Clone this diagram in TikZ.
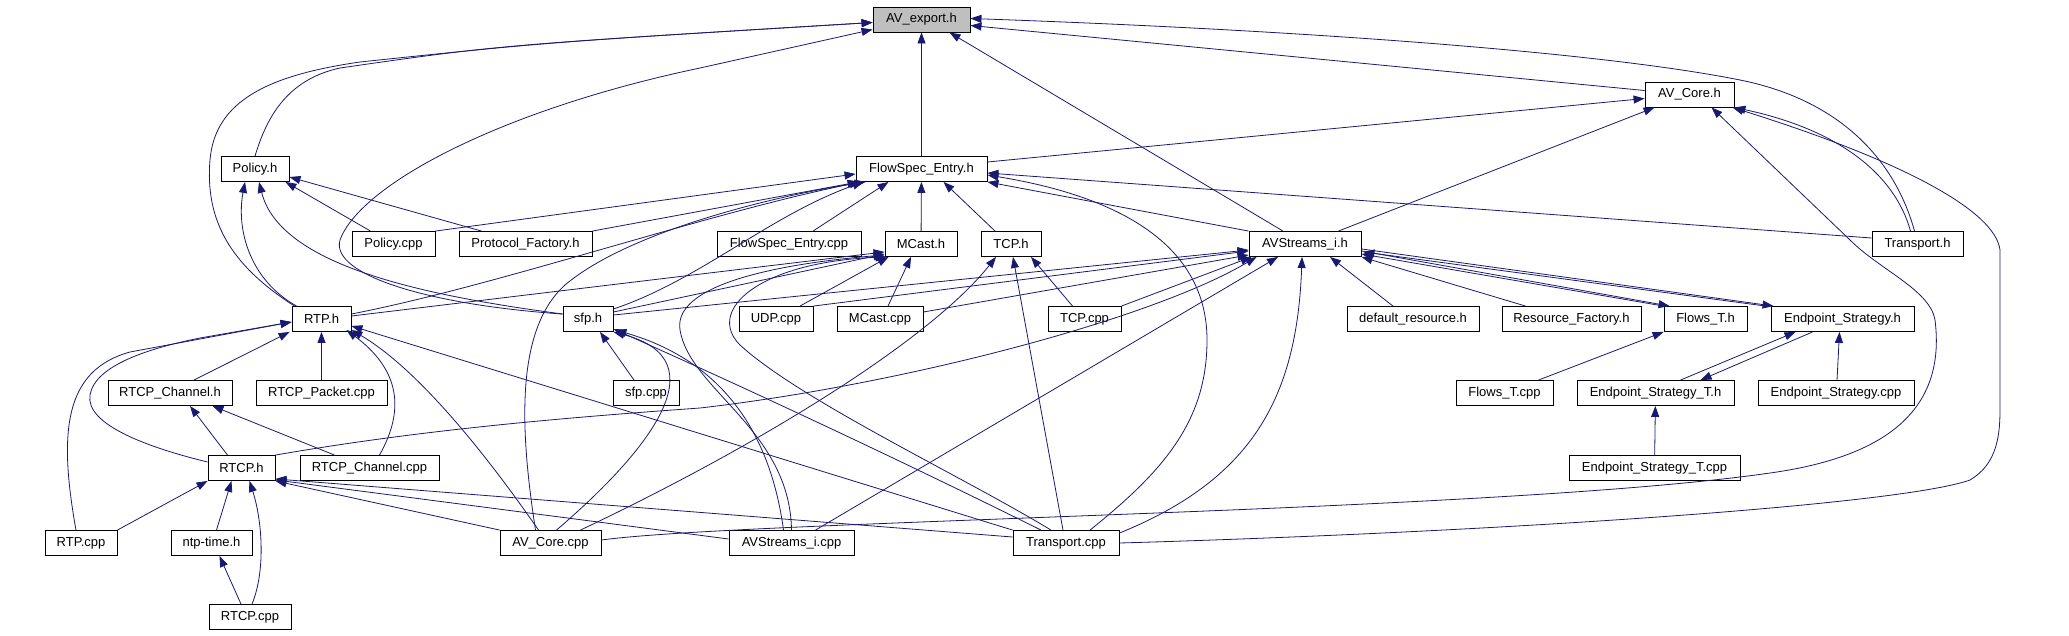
\documentclass[tikz,border=0pt]{standalone}
\usepackage{fontspec}
\setmainfont{Liberation Sans}
\usetikzlibrary{arrows.meta}
\definecolor{depblue}{HTML}{191970}
\tikzset{
  file/.style={draw=black, fill=white, line width=0.9pt, minimum height=25pt, inner sep=0pt,
    font=\fontsize{13}{15}\selectfont},
  dep/.style={draw=depblue, line width=0.8pt, -{Triangle[length=11pt,width=8pt]}}
}
\begin{document}
\begin{tikzpicture}[x=1pt,y=-1pt]
  \useasboundingbox (0,0) rectangle (2069,635);

  \node[file, minimum width=97pt, fill=black!25] (avexport) at (921.5,19.5) {AV\_export.h};
  \node[file, minimum width=89pt] (avcoreh) at (1689.5,94.5) {AV\_Core.h};
  \node[file, minimum width=68pt] (policyh) at (255,169) {Policy.h};
  \node[file, minimum width=131pt] (flowspech) at (921.5,169) {FlowSpec\_Entry.h};
  \node[file, minimum width=83pt] (policycpp) at (393.5,244) {Policy.cpp};
  \node[file, minimum width=133pt] (protocolh) at (525.5,244) {Protocol\_Factory.h};
  \node[file, minimum width=144pt] (flowspeccpp) at (789,244) {FlowSpec\_Entry.cpp};
  \node[file, minimum width=72pt] (mcasth) at (921,244) {MCast.h};
  \node[file, minimum width=60pt] (tcph) at (1011,244) {TCP.h};
  \node[file, minimum width=112pt] (avstreamsh) at (1305,244) {AVStreams\_i.h};
  \node[file, minimum width=91pt] (transporth) at (1917.5,244) {Transport.h};
  \node[file, minimum width=59pt] (rtph) at (321.5,319) {RTP.h};
  \node[file, minimum width=50pt] (sfph) at (588,319) {sfp.h};
  \node[file, minimum width=74pt] (udpcpp) at (776,319) {UDP.cpp};
  \node[file, minimum width=86pt] (mcastcpp) at (880,319) {MCast.cpp};
  \node[file, minimum width=73pt] (tcpcpp) at (1084.5,319) {TCP.cpp};
  \node[file, minimum width=132pt] (defaultresh) at (1413,319) {default\_resource.h};
  \node[file, minimum width=139pt] (resourceh) at (1571.5,319) {Resource\_Factory.h};
  \node[file, minimum width=83pt] (flowsth) at (1705.5,319) {Flows\_T.h};
  \node[file, minimum width=143pt] (endpointh) at (1842.5,319) {Endpoint\_Strategy.h};
  \node[file, minimum width=124pt] (rtcpchannelh) at (170,393) {RTCP\_Channel.h};
  \node[file, minimum width=131pt] (rtcppacketcpp) at (321.5,393) {RTCP\_Packet.cpp};
  \node[file, minimum width=66pt] (sfpcpp) at (646,393) {sfp.cpp};
  \node[file, minimum width=97pt] (flowstcpp) at (1504.5,393) {Flows\_T.cpp};
  \node[file, minimum width=157pt] (endpointth) at (1655.5,393) {Endpoint\_Strategy\_T.h};
  \node[file, minimum width=156pt] (endpointcpp) at (1836,393) {Endpoint\_Strategy.cpp};
  \node[file, minimum width=67pt] (rtcph) at (241.5,468) {RTCP.h};
  \node[file, minimum width=139pt] (rtcpchannelcpp) at (369.5,468) {RTCP\_Channel.cpp};
  \node[file, minimum width=171pt] (endpointtcpp) at (1654.5,468) {Endpoint\_Strategy\_T.cpp};
  \node[file, minimum width=72pt] (rtpcpp) at (81,543) {RTP.cpp};
  \node[file, minimum width=81pt] (ntptimeh) at (211.5,543) {ntp-time.h};
  \node[file, minimum width=101pt] (avcorecpp) at (550.5,543) {AV\_Core.cpp};
  \node[file, minimum width=125pt] (avstreamscpp) at (791.5,543) {AVStreams\_i.cpp};
  \node[file, minimum width=106pt] (transportcpp) at (1066,543) {Transport.cpp};
  \node[file, minimum width=82pt] (rtcpcpp) at (250,617) {RTCP.cpp};

  \draw[dep] (policyh.north) .. controls (266,120) and (285,80) .. (340,68) .. controls (500,45) .. ([yshift=-3pt]avexport.west);
  \draw[dep] ([xshift=3pt]rtph.north west) .. controls (230,265) and (205,220) .. (210,160) .. controls (215,100) and (270,75) .. (360,62) .. controls (550,42) .. ([yshift=-3pt]avexport.west);
  \draw[dep] ([yshift=5pt]sfph.west) .. controls (430,305) and (330,275) .. (340,240) .. controls (360,185) and (500,110) .. (700,68) -- ([yshift=-10pt]avexport.west);
  \draw[dep] (flowspech) -- (avexport);
  \draw[dep] ([xshift=-22pt]avstreamsh.north) -- ([xshift=28pt]avexport.south);
  \draw[dep] ([yshift=4pt]avcoreh.west) -- ([yshift=-6pt]avexport.east);
  \draw[dep] ([xshift=-3pt]transporth.north) .. controls (1895,160) and (1840,100) .. (1740,80) .. controls (1600,52) and (1300,30) .. ([yshift=1pt]avexport.east);

  \draw[dep] ([yshift=7pt]flowspech.east) -- ([yshift=-4pt]avcoreh.west);
  \draw[dep] ([xshift=-23pt]avstreamsh.north east) -- ([xshift=10pt]avcoreh.south west);
  \draw[dep] ([yshift=3pt]avcorecpp.east) .. controls (750,520) and (1500,512) .. (1770,473) .. controls (1900,455) and (1945,400) .. (1935,320) .. controls (1930,290) and (1880,270) .. (1850,240) -- ([xshift=22pt]avcoreh.south);
  \draw[dep] ([xshift=-7pt]transporth.north) .. controls (1895,175) and (1840,130) .. (avcoreh.south east);
  \draw[dep] (transportcpp.east) .. controls (1500,532) and (1900,505) .. (1970,480) .. controls (1995,465) and (2000,440) .. (2000,410) -- (2000,250) .. controls (1995,210) and (1900,160) .. ([xshift=-2pt]avcoreh.south east);

  \draw[dep] ([xshift=5pt]rtph.north west) .. controls (250,280) and (236,230) .. ([xshift=-10pt]policyh.south);
  \draw[dep] ([yshift=5pt]sfph.west) .. controls (420,295) and (280,265) .. ([xshift=4pt]policyh.south);
  \draw[dep] ([xshift=-23pt]policycpp.north) -- ([xshift=-4pt]policyh.south east);
  \draw[dep] ([xshift=-44pt]protocolh.north) -- ([yshift=-8pt]policyh.east);

  \draw[dep] (policycpp.north east) -- ([yshift=-5pt]flowspech.west);
  \draw[dep] (protocolh.north east) -- ([xshift=3pt]flowspech.south west);
  \draw[dep] ([yshift=5pt]rtph.east) .. controls (500,285) and (700,215) .. ([xshift=5pt]flowspech.south west);
  \draw[dep] ([yshift=10pt]sfph.east) .. controls (700,280) and (770,215) .. ([xshift=8pt]flowspech.south west);
  \draw[dep] ([xshift=-15pt]avcorecpp.north) .. controls (520,430) and (515,330) .. (565,285) .. controls (630,230) and (780,195) .. ([xshift=10pt]flowspech.south west);
  \draw[dep] ([xshift=24pt]flowspeccpp.north) -- ([xshift=-33pt]flowspech.south);
  \draw[dep] (mcasth) -- (flowspech);
  \draw[dep] ([xshift=-16pt]tcph.north) -- ([xshift=22pt]flowspech.south);
  \draw[dep] (avstreamsh.north west) -- (flowspech.south east);
  \draw[dep] ([yshift=6pt]transporth.west) -- ([yshift=-4pt]flowspech.east);
  \draw[dep] ([xshift=24pt]transportcpp.north) .. controls (1165,470) and (1207,420) .. (1207,340) .. controls (1207,240) and (1110,195) .. ([yshift=-6pt]flowspech.east);

  \draw[dep] ([yshift=3pt]rtph.east) -- ([yshift=5pt]mcasth.south west);
  \draw[dep] ([yshift=7pt]sfph.east) -- ([yshift=3pt]mcasth.south west);
  \draw[dep] ([xshift=24pt]udpcpp.north) -- ([xshift=4pt]mcasth.south west);
  \draw[dep] ([xshift=8pt]mcastcpp.north) -- ([xshift=-10pt]mcasth.south);
  \draw[dep] (avstreamscpp.north) .. controls (790,430) and (690,390) .. (680,330) .. controls (672,280) and (800,262) .. ([yshift=2pt]mcasth.south west);
  \draw[dep] ([xshift=-15pt]transportcpp.north) .. controls (960,475) and (800,400) .. (740,345) .. controls (705,310) and (760,262) .. ([xshift=2pt]mcasth.south west);

  \draw[dep] ([xshift=-12pt]tcpcpp.north) -- ([xshift=20pt]tcph.south);
  \draw[dep] ([xshift=30pt]avcorecpp.north) .. controls (760,445) and (930,340) .. ([xshift=-15pt]tcph.south);
  \draw[dep] ([xshift=-3pt]transportcpp.north) -- ([xshift=2pt]tcph.south);

  \draw[dep] ([yshift=4pt]sfph.east) -- ([yshift=-6pt]avstreamsh.west);
  \draw[dep] (udpcpp.north east) -- ([yshift=-7pt]avstreamsh.west);
  \draw[dep] ([yshift=7pt]mcastcpp.east) -- ([yshift=-11pt]avstreamsh.west);
  \draw[dep] (rtcph.north east) .. controls (420,430) and (560,418) .. (700,408) .. controls (900,385) and (1150,320) .. ([xshift=8pt]avstreamsh.south west);
  \draw[dep] (tcpcpp.north east) -- ([xshift=3pt]avstreamsh.south west);
  \draw[dep] ([xshift=24pt]avstreamscpp.north) -- ([xshift=-27pt]avstreamsh.south);
  \draw[dep] ([yshift=-3pt]transportcpp.north east) .. controls (1250,480) and (1297,400) .. ([xshift=-3pt]avstreamsh.south);
  \draw[dep] ([xshift=-20pt]defaultresh.north) -- ([xshift=25pt]avstreamsh.south);
  \draw[dep] ([xshift=-46pt]resourceh.north) -- (avstreamsh.south east);
  \draw[dep] (flowsth.north west) -- ([yshift=3pt]avstreamsh.south east);
  \draw[dep] ([yshift=6pt]avstreamsh.south east) -- ([xshift=6pt]flowsth.north west);
  \draw[dep] ([xshift=-5pt]endpointh.north west) -- ([xshift=2pt,yshift=5pt]avstreamsh.south east);
  \draw[dep] ([yshift=8pt]avstreamsh.south east) -- ([xshift=3pt]endpointh.north west);

  \draw[dep] ([xshift=34pt]flowstcpp.north) -- (flowsth.south west);
  \draw[dep] ([xshift=25pt]endpointth.north) -- ([xshift=-47pt]endpointh.south);
  \draw[dep] ([xshift=-30pt]endpointh.south) -- ([xshift=45pt]endpointth.north);
  \draw[dep] ([xshift=1pt]endpointcpp.north) -- ([xshift=-3pt]endpointh.south);
  \draw[dep] (endpointtcpp) -- (endpointth);

  \draw[dep] ([xshift=-5pt]rtpcpp.north) .. controls (58,430) and (65,370) .. (130,352) -- ([yshift=-3pt]rtph.west);
  \draw[dep] ([yshift=6pt]rtcph.west) .. controls (150,448) and (85,425) .. (90,395) .. controls (95,365) and (150,348) .. (200,338) -- ([yshift=-3pt]rtph.west);
  \draw[dep] ([xshift=24pt]rtcpchannelh.north) -- ([xshift=-2pt]rtph.south west);
  \draw[dep] (rtcppacketcpp) -- (rtph);
  \draw[dep] ([xshift=10pt]rtcpchannelcpp.north) .. controls (405,410) and (400,370) .. ([xshift=-5pt,yshift=2pt]rtph.south east);
  \draw[dep] ([xshift=-12pt]avcorecpp.north) .. controls (490,460) and (420,370) .. ([yshift=2pt]rtph.south east);
  \draw[dep] (transportcpp.north west) -- ([yshift=6pt]rtph.south east);

  \draw[dep] ([xshift=-12pt]sfpcpp.north) -- ([xshift=12pt]sfph.south);
  \draw[dep] ([xshift=6pt]avcorecpp.north) .. controls (650,450) and (720,360) .. (sfph.south east);
  \draw[dep] ([xshift=-8pt]avstreamscpp.north) .. controls (770,430) and (720,360) .. ([xshift=2pt,yshift=2pt]sfph.south east);
  \draw[dep] ([xshift=-25pt]transportcpp.north) .. controls (900,460) and (750,390) .. ([yshift=3pt]sfph.south east);

  \draw[dep] ([xshift=-14pt]rtcph.north) -- ([xshift=20pt]rtcpchannelh.south);
  \draw[dep] ([xshift=-35pt]rtcpchannelcpp.north) -- ([xshift=-20pt]rtcpchannelh.south east);
  \draw[dep] (rtpcpp.north east) -- (rtcph.south west);
  \draw[dep] ([xshift=5pt]ntptimeh.north) -- ([xshift=-10pt]rtcph.south);
  \draw[dep] ([xshift=2pt]rtcpcpp.north) .. controls (266,570) and (262,520) .. ([xshift=8pt]rtcph.south);
  \draw[dep] ([xshift=-9pt]rtcpcpp.north) -- ([xshift=8pt]ntptimeh.south);
  \draw[dep] (avcorecpp.north west) -- (rtcph.south east);
  \draw[dep] ([yshift=4pt]avstreamscpp.west) -- ([yshift=1pt]rtcph.south east);
  \draw[dep] ([yshift=6pt]transportcpp.west) -- ([yshift=2pt]rtcph.south east);
\end{tikzpicture}
\end{document}
